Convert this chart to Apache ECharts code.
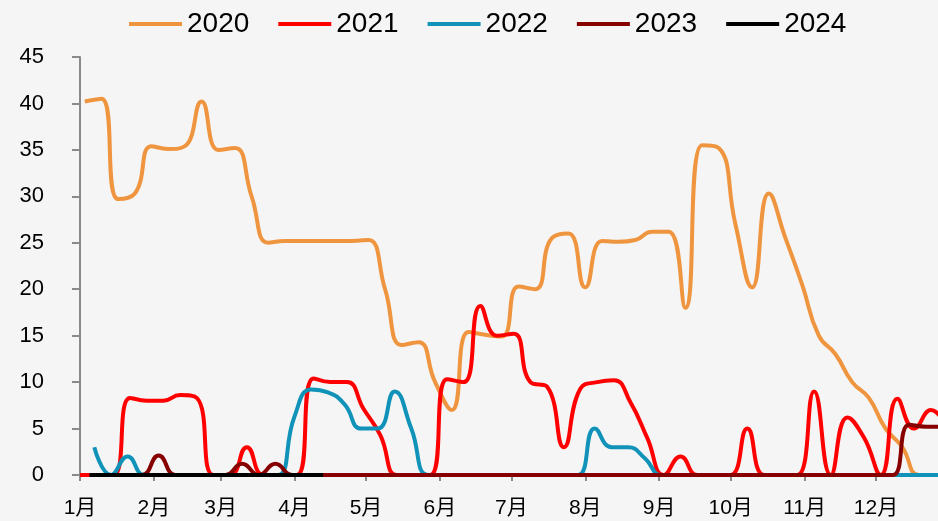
<!DOCTYPE html>
<html>
<head>
<meta charset="utf-8">
<style>
html,body{margin:0;padding:0;background:#f5f5f5;}
#chart{width:938px;height:521px;}
</style>
<script src="https://cdn.jsdelivr.net/npm/echarts@6/dist/echarts.min.js"></script>
</head>
<body>
<div id="chart"></div>
<script>
// day of year where each month starts (common 365-day year)
var monthStarts = [0, 31, 59, 90, 120, 151, 181, 212, 243, 273, 304, 334];
var monthLabels = ['1月','2月','3月','4月','5月','6月','7月','8月','9月','10月','11月','12月'];

var years = ['2020', '2021', '2022', '2023', '2024'];
// weekly readings (Fridays); first reading day of year for each year
var firstDay = [2, 0, 6, 5, 4];

var v2020 = [40.2, 40.5, 29.7, 30.3, 35.4, 35.1, 35.4, 40.2, 35, 35.2,
             30, 25, 25.2, 25.2, 25.2, 25.2, 25.2, 25.3, 20, 14,
             14.3, 10, 7, 15.4, 15.1, 14.9, 20.3, 20, 25.5, 26,
             20.2, 25.2, 25.1, 25.3, 26.2, 26.2, 18, 35.5, 35.2, 27,
             20.2, 30.3, 25.5, 20.5, 15, 13, 10, 8.3, 5, 3,
             0, 0];
var v2021 = [0, 0, 0, 8.3, 8, 8, 8.6, 8.3, 0, 0,
             3, 0, 0, 0, 10.4, 10, 10, 7.1, 4.3, 0,
             0, 0, 10.3, 10, 18.2, 15, 15.2, 10, 9.5, 3,
             9.3, 10, 10.2, 7.8, 4, 0, 2, 0, 0, 0,
             5, 0, 0, 0, 9, 0, 6.2, 4, 0, 8.2,
             5, 7, 5];
var v2022 = [3, 0, 2, 0, 0, 0, 0, 0, 0, 0,
             0, 0, 6.3, 9.2, 8.9, 7.6, 5, 5, 9, 5,
             0, 0, 0, 0, 0, 0, 0, 0, 0, 0,
             5, 3, 3, 1.8, 0, 0, 0, 0, 0, 0,
             0, 0, 0, 0, 0, 0, 0, 0, 0, 0,
             0, 0];
var v2023 = [0, 0, 0, 0, 2.1, 0, 0, 0, 0, 1.2,
             0, 1.2, 0, 0, 0, 0, 0, 0, 0, 0,
             0, 0, 0, 0, 0, 0, 0, 0, 0, 0,
             0, 0, 0, 0, 0, 0, 0, 0, 0, 0,
             0, 0, 0, 0, 0, 0, 0, 0, 0, 5.4,
             5.2, 5.2];
var v2024 = [0, 0, 0, 0, 0, 0, 0, 0, 0, 0, 0, 0, 0, 0, 0];

var colors = ['#F0953F', '#FF0000', '#1193B9', '#860000', '#000000'];
var values = [v2020, v2021, v2022, v2023, v2024];

function weekly(start, vals) {
    return vals.map(function (v, i) { return [start + 7 * i, v]; });
}

var chart = echarts.init(document.getElementById('chart'));
var font = "'Liberation Sans', 'Noto Sans CJK SC', sans-serif";

var series = years.map(function (y, k) {
    return {
        name: y,
        type: 'line',
        smooth: true,
        symbol: 'none',
        lineStyle: { width: 4, color: colors[k] },
        itemStyle: { color: colors[k] },
        data: weekly(firstDay[k], values[k])
    };
});

chart.setOption({
    backgroundColor: '#f5f5f5',
    animation: false,
    legend: {
        data: years,
        left: 124,
        top: 5,
        icon: 'rect',
        itemWidth: 53,
        itemHeight: 4,
        itemGap: 29,
        textStyle: { fontSize: 28, color: '#000', fontFamily: font }
    },
    grid: { left: 80, right: 0, top: 57, bottom: 46, outerBoundsMode: 'none' },
    xAxis: {
        type: 'value',
        min: 0,
        max: 360,
        splitLine: { show: false },
        axisLine: { lineStyle: { color: '#8a8a8a', width: 2 } },
        axisTick: { length: 6, customValues: monthStarts, lineStyle: { color: '#8a8a8a', width: 2 } },
        axisLabel: {
            customValues: monthStarts,
            margin: 23,
            fontSize: 21,
            color: '#000',
            fontFamily: font,
            formatter: function (v) { return monthLabels[monthStarts.indexOf(v)]; }
        }
    },
    yAxis: {
        type: 'value',
        min: 0,
        max: 45,
        interval: 5,
        splitLine: { show: false },
        axisLine: { show: true, lineStyle: { color: '#8a8a8a', width: 2 } },
        axisTick: { show: true, length: 8, lineStyle: { color: '#8a8a8a', width: 2 } },
        axisLabel: { margin: 36, fontSize: 22, color: '#000', fontFamily: font }
    },
    series: series
});
</script>
</body>
</html>
